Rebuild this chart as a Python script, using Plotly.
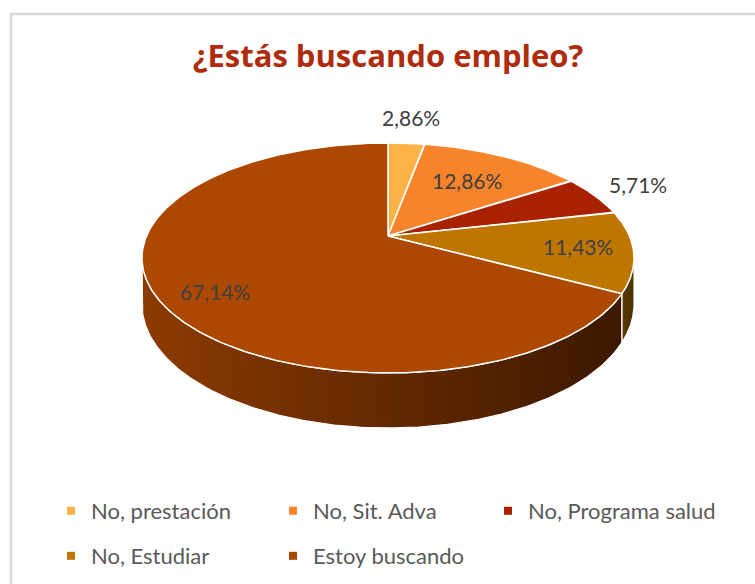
import numpy as np
import plotly.graph_objects as go

# ---- data ----
categories = ["No, prestación", "No, Sit. Adva", "No, Programa salud", "No, Estudiar", "Estoy buscando"]
percentages = [2.86, 12.86, 5.71, 11.43, 67.14]
label_texts = ["2,86%", "12,86%", "5,71%", "11,43%", "67,14%"]

# ---- style ----
colors = ["#FBB345", "#F7832B", "#A82200", "#BF7600", "#AD4800"]
side_colors = [["#7a5000", "#5a3a00"], ["#7a4010", "#5a2e00"], ["#5a1200", "#3a0c00"],
               ["#5a3c00", "#4a3000"], ["#8C3B00", "#3C1800"]]
W, H = 755, 584
CX, CY = 388, 236          # pie apex (pixels)
A, B, K = 241.5, 110.8, 0.191   # horizontal radius, vertical radius, perspective
DEPTH = 44.5
VIS_START, VIS_END = 90 + np.degrees(np.arcsin(K)), 270 - np.degrees(np.arcsin(K))
# label placement: (radius factor, x shift, y shift)
label_place = [(1.32, 0, -2), (0.65, 1, -1), (1.22, 2, -3), (0.80, -5, -2), (0.77, 0, 8)]
label_font = dict(family="Lato, Carlito, sans-serif", size=21, color="#404040")
legend_font = dict(family="Lato, Carlito, sans-serif", size=22, color="#595959")
# legend text start positions (pixels)
legend_text_pos = [(90, 511), (312, 511), (527, 511), (90, 556), (312, 556)]


def proj(theta_deg, f=1.0):
    t = np.radians(theta_deg)
    u, v = f * np.sin(t), f * np.cos(t)
    d = 1 + K * v
    return CX + A * u / d, CY - B * v / d


def depth(theta_deg):
    return DEPTH / (1 + K * np.cos(np.radians(theta_deg)))


fig = go.Figure()

cum = np.concatenate([[0], np.cumsum(percentages)]) / np.sum(percentages) * 360.0

# side walls (front, visible part)
for i in range(len(percentages)):
    a, b = max(cum[i], VIS_START), min(cum[i + 1], VIS_END)
    if b <= a:
        continue
    th = np.linspace(a, b, 200)
    xt, yt = proj(th)
    yb = yt + depth(th)
    xs = np.concatenate([xt, xt[::-1], xt[:1]])
    ys = np.concatenate([yt, yb[::-1], yt[:1]])
    fig.add_trace(go.Scatter(
        x=xs, y=ys, mode="lines", fill="toself",
        fillgradient=dict(type="horizontal",
                          colorscale=[[0, side_colors[i][0]], [1, side_colors[i][1]]]),
        line=dict(color="white", width=1.2), hoverinfo="skip", showlegend=False))

# top faces
for i in range(len(percentages)):
    th = np.linspace(cum[i], cum[i + 1], 300)
    xr, yr = proj(th)
    xs = np.concatenate([[CX], xr, [CX]])
    ys = np.concatenate([[CY], yr, [CY]])
    fig.add_trace(go.Scatter(
        x=xs, y=ys, mode="lines", fill="toself", fillcolor=colors[i],
        line=dict(color="white", width=1.5), name=categories[i],
        text=[f"{categories[i]}: {label_texts[i]}"] * len(xs),
        hoverinfo="text", showlegend=False))

# data labels
for i, txt in enumerate(label_texts):
    mid = (cum[i] + cum[i + 1]) / 2
    f, dx, dy = label_place[i]
    lx, ly = proj(mid, f)
    fig.add_annotation(x=lx + dx, y=ly + dy, text=txt, showarrow=False,
                       xref="x", yref="y", font=label_font)

# legend entries (one legend per entry for exact Excel-like placement)
legend_layouts = {}
for i, name in enumerate(categories):
    key = "legend" if i == 0 else f"legend{i + 1}"
    fig.add_trace(go.Scatter(
        x=[None], y=[None], mode="markers", name=name,
        marker=dict(symbol="square", size=8, color=colors[i]),
        legend=key, showlegend=True))
    px, py = legend_text_pos[i]
    legend_layouts[key] = dict(
        x=(px - 39) / W, y=1 - py / H, xanchor="left", yanchor="middle",
        bgcolor="rgba(0,0,0,0)", itemwidth=30, font=legend_font)

fig.update_layout(
    width=W, height=H, autosize=False,
    margin=dict(l=0, r=0, t=0, b=0),
    paper_bgcolor="white", plot_bgcolor="white",
    title=dict(text="<b>¿Estás buscando empleo?</b>", x=388 / W, y=1 - 56 / H,
               xanchor="center", yanchor="middle",
               font=dict(family="Open Sans, Lato, sans-serif", size=31, color="#AE2C0C")),
    xaxis=dict(range=[0, W], visible=False, fixedrange=True),
    yaxis=dict(range=[H, 0], visible=False, fixedrange=True),
    shapes=[dict(type="rect", xref="paper", yref="paper",
                 x0=11 / W, x1=1.02, y0=-0.02, y1=1 - 14 / H,
                 line=dict(color="#D9D9D9", width=2.5), layer="below")],
    **legend_layouts,
)

fig.write_html("out.html", config={"displayModeBar": False},
               post_script="document.body.style.margin='0';")
